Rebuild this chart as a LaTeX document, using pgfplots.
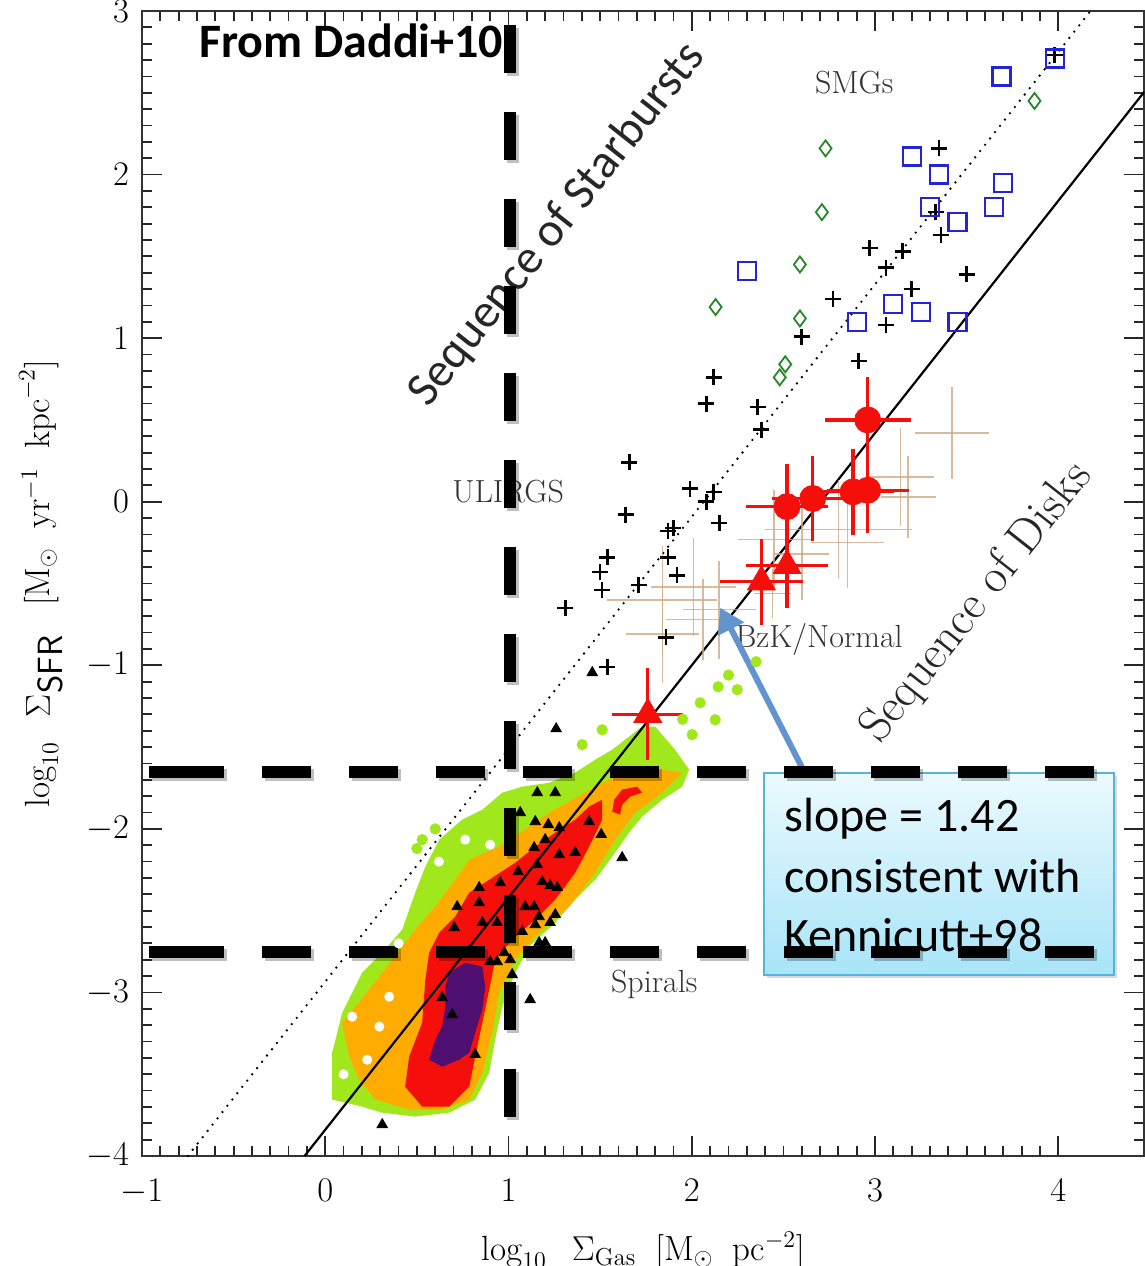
\documentclass[border=0pt]{standalone}
\usepackage{fontspec}
\usepackage{pgfplots}
\pgfplotsset{compat=1.18}
\usetikzlibrary{shadows,arrows.meta}
\newfontfamily\carlito{Carlito}
\definecolor{cgreen}{RGB}{160,232,28}
\definecolor{corange}{RGB}{255,172,0}
\definecolor{cred}{RGB}{245,15,10}
\definecolor{cpurple}{RGB}{78,15,112}
\definecolor{cblue}{RGB}{35,35,215}
\definecolor{cdgreen}{RGB}{40,135,40}
\definecolor{ctan}{RGB}{205,170,130}
\definecolor{carrow}{RGB}{98,148,205}
\definecolor{cboxb}{RGB}{85,180,215}
\definecolor{cboxt}{RGB}{236,250,255}
\definecolor{cboxbot}{RGB}{168,228,248}
\begin{document}
\begin{tikzpicture}
\begin{axis}[
  scale only axis, width=501.3pt, height=572.6pt,
  xmin=-1, xmax=4.47, ymin=-4, ymax=3,
  xtick={-1,0,1,2,3,4}, ytick={-4,-3,-2,-1,0,1,2,3},
  minor x tick num=9, minor y tick num=9,
  major tick length=10pt, minor tick length=5pt,
  tick style={black!85, line width=0.9pt},
  axis line style={black!80, line width=1.1pt},
  tick label style={font=\fontsize{17}{19}\selectfont},
  xticklabel style={yshift=-8pt},
  yticklabel style={xshift=-3pt},
  label style={font=\fontsize{17.5}{20}\selectfont},
  xlabel={$\log_{10}\;\;\Sigma_{\mathrm{Gas}}\;\;\bigl[\mathrm{M}_{\odot}\;\;\mathrm{pc}^{-2}\bigr]$},
  ylabel={$\log_{10}\;\;\Sigma_{\textsf{SFR}}\;\;\;\bigl[\mathrm{M}_{\odot}\;\;\mathrm{yr}^{-1}\;\;\mathrm{kpc}^{-2}\bigr]$},
  x label style={at={(axis description cs:0.5,-0.091)}, anchor=base},
  y label style={at={(axis description cs:-0.092,0.5)}, anchor=base},
]
% density contours
\addplot[fill=cgreen, draw=none] coordinates {
(0.038,-3.655)(0.038,-3.368)(0.093,-3.123)(0.202,-2.879)(0.311,-2.757)(0.420,-2.616)
(0.491,-2.390)(0.546,-2.231)(0.622,-2.066)(0.747,-1.944)(0.857,-1.883)(0.966,-1.779)
(1.075,-1.742)(1.222,-1.718)(1.364,-1.656)(1.473,-1.577)(1.566,-1.516)(1.658,-1.436)
(1.729,-1.375)(1.800,-1.375)(1.909,-1.516)(1.986,-1.638)(1.948,-1.742)(1.839,-1.822)
(1.729,-1.925)(1.658,-2.023)(1.566,-2.170)(1.473,-2.311)(1.364,-2.433)(1.255,-2.573)
(1.113,-2.720)(1.037,-2.879)(0.966,-3.087)(0.927,-3.289)(0.895,-3.490)(0.818,-3.655)
(0.676,-3.735)(0.491,-3.759)(0.311,-3.735)(0.202,-3.698)} -- cycle;
\addplot[only marks, mark=*, mark size=2.6pt, color=cgreen] coordinates {
(2.351,-0.978)(2.248,-1.149)(2.144,-1.131)(2.046,-1.229)(2.128,-1.333)(2.002,-1.424)
(1.839,-1.485)(1.511,-1.394)(1.402,-1.485)(0.666,-2.097)(0.529,-2.066)(0.60,-2.00)
(2.20,-1.06)(1.95,-1.33)(0.50,-2.12)};
\addplot[fill=corange, draw=none] coordinates {
(0.131,-3.392)(0.093,-3.185)(0.240,-2.983)(0.366,-2.800)(0.491,-2.616)(0.600,-2.476)
(0.709,-2.311)(0.786,-2.188)(0.949,-2.109)(1.113,-1.987)(1.222,-1.901)(1.348,-1.822)
(1.473,-1.742)(1.582,-1.681)(1.691,-1.656)(1.839,-1.638)(1.948,-1.656)(1.839,-1.779)
(1.691,-1.901)(1.582,-2.066)(1.473,-2.268)(1.331,-2.476)(1.167,-2.634)(1.037,-2.800)
(0.949,-3.001)(0.911,-3.246)(0.857,-3.490)(0.786,-3.655)(0.638,-3.716)(0.458,-3.716)
(0.273,-3.655)(0.185,-3.533)} -- cycle;
\addplot[only marks, mark=*, mark size=2.3pt, color=white] coordinates {
(0.349,-3.026)(0.295,-3.209)(0.147,-3.148)(0.764,-2.066)(0.900,-2.097)(0.229,-3.411)(0.40,-2.70)
(0.10,-3.50)(0.62,-2.20)};
\addplot[fill=cred, draw=none] coordinates {
(0.436,-3.576)(0.458,-3.392)(0.529,-3.185)(0.546,-2.922)(0.567,-2.757)(0.622,-2.634)
(0.709,-2.537)(0.786,-2.390)(0.895,-2.311)(1.037,-2.207)(1.146,-2.109)(1.255,-2.023)
(1.364,-1.944)(1.440,-1.864)(1.511,-1.822)(1.511,-1.944)(1.440,-2.109)(1.364,-2.268)
(1.255,-2.433)(1.146,-2.555)(1.020,-2.677)(0.927,-2.800)(0.895,-2.983)(0.857,-3.185)
(0.818,-3.392)(0.786,-3.576)(0.676,-3.698)(0.529,-3.698)} -- cycle;
\addplot[fill=cred, draw=none] coordinates {
(1.577,-1.822)(1.620,-1.760)(1.702,-1.742)(1.729,-1.779)(1.664,-1.803)(1.620,-1.852)
(1.609,-1.913)(1.566,-1.895)} -- cycle;
\addplot[fill=cpurple, draw=none] coordinates {
(0.676,-2.879)(0.764,-2.818)(0.857,-2.842)(0.873,-2.965)(0.857,-3.105)(0.818,-3.246)
(0.786,-3.368)(0.731,-3.411)(0.638,-3.454)(0.567,-3.411)(0.600,-3.289)(0.638,-3.209)
(0.655,-3.087)(0.655,-2.965)} -- cycle;
% sequences
\addplot[black, line width=1.1pt] coordinates {(-0.113,-4) (4.47,2.507)};
\addplot[black, line width=1.3pt, line cap=round, dash pattern=on 0pt off 4pt] coordinates {(-0.75,-4) (4.176,3)};
% tan error crosses
\addplot[draw=none, mark=none, error bars/.cd, x dir=both, y dir=both, x explicit, y explicit,
  error mark=none, error bar style={draw=ctan, line width=0.8pt, opacity=0.8}] coordinates {
(3.42,0.42) +- (0.2,0.28)
(3.14,0.15) +- (0.18,0.3)
(3.18,0.03) +- (0.15,0.25)
(2.80,-0.17) +- (0.4,0.3)
(2.85,-0.25) +- (0.2,0.28)
(2.45,-0.23) +- (0.2,0.3)
(2.60,-0.32) +- (0.15,0.28)
(1.84,-0.60) +- (0.3,0.33)
(2.01,-0.52) +- (0.23,0.3)
(2.15,-0.66) +- (0.2,0.3)
(2.06,-0.72) +- (0.2,0.25)
(1.84,-0.81) +- (0.2,0.3)
(2.44,-0.56) +- (0.1,0.15)};
% spirals (small black triangles)
\addplot[only marks, mark=triangle*, mark size=3pt, black] coordinates {
(1.157,-1.779)(1.255,-1.779)(1.064,-1.901)(1.146,-1.956)(1.217,-1.974)(1.277,-1.993)
(1.440,-1.956)(1.506,-2.035)(1.620,-2.176)(1.140,-2.115)(1.200,-2.066)(1.277,-2.158)
(1.364,-2.145)(1.157,-2.219)(1.053,-2.262)(0.955,-2.329)(0.840,-2.359)(1.184,-2.323)
(1.227,-2.347)(1.266,-2.359)(0.720,-2.476)(0.840,-2.451)(1.091,-2.476)(1.140,-2.476)
(1.167,-2.537)(1.255,-2.524)(1.227,-2.573)(1.146,-2.586)(0.857,-2.573)(0.938,-2.573)
(1.075,-2.628)(0.704,-2.604)(1.009,-2.677)(1.167,-2.696)(1.200,-2.696)(0.900,-2.812)
(0.938,-2.812)(1.009,-2.800)(0.977,-2.757)(1.020,-2.891)(1.118,-3.044)(0.638,-3.032)
(1.457,-1.045)(1.260,-1.388)(0.693,-3.136)(0.818,-3.380)(0.311,-3.808)};
% ULIRGs (plus)
\addplot[only marks, mark=+, mark size=4pt, black, line width=1.3pt] coordinates {
(3.35,2.16)(3.33,1.77)(3.36,1.63)(2.97,1.55)(3.15,1.53)(3.06,1.43)(3.50,1.39)(3.20,1.30)
(2.77,1.24)(3.06,1.08)(2.60,1.01)(3.98,2.73)(2.91,0.86)(2.12,0.76)(2.08,0.60)(2.36,0.58)
(2.38,0.44)(1.66,0.24)(1.99,0.08)(2.12,0.06)(2.08,0.00)(1.64,-0.08)(1.87,-0.18)(1.90,-0.16)
(2.15,-0.13)(1.54,-0.34)(1.87,-0.34)(1.50,-0.43)(1.51,-0.54)(1.71,-0.51)(1.92,-0.45)
(1.31,-0.65)(1.86,-0.83)(1.54,-1.01)};
% SMGs squares
\addplot[only marks, mark=square, mark size=4.5pt, cblue, line width=1.1pt] coordinates {
(3.69,2.60)(3.98,2.71)(3.20,2.11)(3.35,2.00)(3.70,1.95)(3.30,1.80)(3.65,1.80)(3.45,1.71)
(2.30,1.41)(3.10,1.21)(3.25,1.16)(2.90,1.10)(3.45,1.10)};
% diamonds
\addplot[only marks, mark=diamond, mark size=4pt, cdgreen, line width=0.9pt] coordinates {
(2.73,2.16)(2.71,1.77)(2.59,1.45)(2.13,1.19)(2.59,1.12)(3.87,2.45)(2.51,0.84)(2.48,0.76)};
% red circles
\addplot[only marks, mark=*, mark size=6.5pt, cred,
  error bars/.cd, x dir=both, y dir=both, x explicit, y explicit,
  error bar style={cred, line width=1.6pt}, error mark options={cred, line width=1.6pt, mark size=5pt}]
  coordinates {
(2.96,0.50) +- (0.18,0.2)
(2.52,-0.03) +- (0.17,0.2)
(2.66,0.02) +- (0.17,0.2)
(2.88,0.06) +- (0.17,0.2)
(2.96,0.07) +- (0.17,0.2)};
% red triangles
\addplot[only marks, mark=triangle*, mark size=8pt, cred,
  error bars/.cd, x dir=both, y dir=both, x explicit, y explicit,
  error bar style={cred, line width=1.6pt}, error mark options={cred, line width=1.6pt, mark size=5pt}]
  coordinates {
(2.38,-0.49) +- (0.17,0.2)
(2.52,-0.39) +- (0.17,0.2)
(1.76,-1.30) +- (0.14,0.22)};
% text labels
\node[font=\fontsize{16}{18}\selectfont, text=black!80] at (axis cs:2.886,2.561) {SMGs};
\node[font=\fontsize{16}{18}\selectfont, text=black!80] at (axis cs:0.998,0.061) {ULIRGS};
\node[font=\fontsize{16}{18}\selectfont, text=black!80] at (axis cs:2.695,-0.844) {BzK/Normal};
\node[font=\fontsize{16}{18}\selectfont, text=black!80] at (axis cs:1.795,-2.952) {Spirals};
\node[font=\carlito\fontsize{24}{26}\selectfont, text=black!85, rotate=51.7] at (axis cs:1.266,1.693) {Sequence of Starbursts};
\node[font=\fontsize{24}{26}\selectfont, text=black!85, rotate=51.7] at (axis cs:3.557,-0.617) {Sequence of Disks};
\node[font=\carlito\bfseries\fontsize{24}{26}\selectfont, anchor=base west] at (axis cs:-0.726,2.714) {From Daddi+10};
% text box
\path[top color=cboxt, bottom color=cboxbot, draw=cboxb, line width=1pt,
  drop shadow={opacity=0.3, shadow xshift=1.5pt, shadow yshift=-1.5pt}]
  (axis cs:2.395,-1.656) rectangle (axis cs:4.304,-2.891);
\node[font=\carlito\fontsize{24}{26}\selectfont, anchor=base west, inner sep=0pt] at (axis cs:2.504,-2.017) {slope = 1.42};
\node[font=\carlito\fontsize{24}{26}\selectfont, anchor=base west, inner sep=0pt] at (axis cs:2.504,-2.390) {consistent with};
\node[font=\carlito\fontsize{24}{26}\selectfont, anchor=base west, inner sep=0pt] at (axis cs:2.504,-2.751) {Kennicutt+98};
\draw[carrow, line width=3pt, -{Triangle[length=12pt, width=14pt]}] (axis cs:2.602,-1.626) -- (axis cs:2.155,-0.648);
% thick dashed lines with shadow
\addplot[black, opacity=0.25, line width=6pt, xshift=1.5pt, yshift=-1.5pt, dash pattern=on 24pt off 19.5pt] coordinates {(1.01,2.916) (1.01,-3.765)};
\addplot[black, line width=6pt, dash pattern=on 24pt off 19.5pt] coordinates {(1.01,2.916) (1.01,-3.765)};
\foreach \yy in {-1.650,-2.751} {
  \addplot[black, opacity=0.25, line width=6pt, xshift=1.5pt, yshift=-1.5pt] coordinates {(-0.960,\yy) (-0.551,\yy)};
  \addplot[black, opacity=0.25, line width=6pt, xshift=1.5pt, yshift=-1.5pt, dash pattern=on 24.5pt off 19pt] coordinates {(-0.344,\yy) (4.195,\yy)};
  \addplot[black, line width=6pt] coordinates {(-0.960,\yy) (-0.551,\yy)};
  \addplot[black, line width=6pt, dash pattern=on 24.5pt off 19pt] coordinates {(-0.344,\yy) (4.195,\yy)};
}
\end{axis}
\pgfresetboundingbox
\useasboundingbox (-71pt,-55pt) rectangle (501.3pt,578.1pt);
\end{tikzpicture}
\end{document}
